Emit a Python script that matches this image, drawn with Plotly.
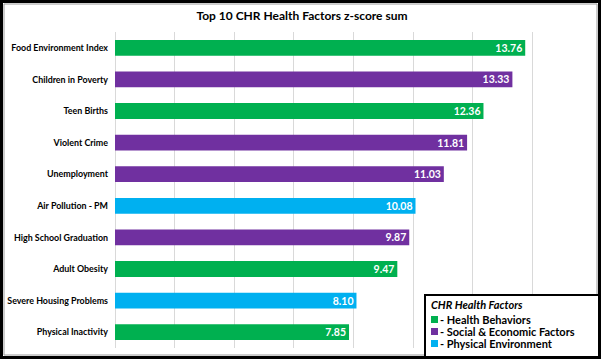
import plotly.graph_objects as go

categories = ["Food Environment Index", "Children in Poverty", "Teen Births", "Violent Crime",
              "Unemployment", "Air Pollution - PM", "High School Graduation", "Adult Obesity",
              "Severe Housing Problems", "Physical Inactivity"]
values = [13.76, 13.33, 12.36, 11.81, 11.03, 10.08, 9.87, 9.47, 8.10, 7.85]
groups = ["Health Behaviors", "Social & Economic Factors", "Health Behaviors", "Social & Economic Factors",
          "Social & Economic Factors", "Physical Environment", "Social & Economic Factors",
          "Health Behaviors", "Physical Environment", "Health Behaviors"]
legend_items = ["Health Behaviors", "Social & Economic Factors", "Physical Environment"]
group_colors = {"Health Behaviors": "#00B050",
                "Social & Economic Factors": "#7030A0",
                "Physical Environment": "#00B0F0"}

W, H = 604, 360
L, R, T, B = 115, 592, 32, 348

def px(x):
    return (x - L) / (R - L)

def py(y):
    return (B - y) / (B - T)

FONT = "Lato"

fig = go.Figure(go.Bar(
    y=categories, x=values, orientation="h",
    marker=dict(color=[group_colors[g] for g in groups], line=dict(width=0)),
    texttemplate="%{x:.2f}", textposition="inside", insidetextanchor="end",
    constraintext="none",
    textfont=dict(family=FONT, size=10.5, color="white", weight="bold"),
    cliponaxis=False, hoverinfo="skip",
))

shapes = [
    # outer frame
    dict(type="rect", xref="paper", yref="paper", x0=px(1.5), x1=px(599.5), y0=py(1.5), y1=py(357.5),
         line=dict(color="black", width=3), layer="above"),
    dict(type="rect", xref="paper", yref="paper", x0=px(4), x1=px(597), y0=py(4), y1=py(355),
         line=dict(color="#9a9a9a", width=1), layer="above"),
    # legend box
    dict(type="rect", xref="paper", yref="paper", x0=px(425), x1=px(599), y0=py(295), y1=py(357),
         line=dict(color="black", width=2), fillcolor="white", layer="above"),
]
annotations = [
    dict(xref="paper", yref="paper", x=px(429), y=py(304), xanchor="left", yanchor="middle",
         text="<b><i>CHR Health Factors</i></b>", showarrow=False,
         font=dict(family=FONT, size=11, color="black")),
]
item_y = [319.5, 331.5, 343.5]
for name, yc in zip(legend_items, item_y):
    shapes.append(dict(type="rect", xref="paper", yref="paper", x0=px(431), x1=px(438),
                       y0=py(yc - 3.5), y1=py(yc + 3.5), line=dict(width=0),
                       fillcolor=group_colors[name], layer="above"))
    annotations.append(dict(xref="paper", yref="paper", x=px(438), y=py(yc), xanchor="left",
                            yanchor="middle", text="<b>- " + name + "</b>", showarrow=False,
                            font=dict(family=FONT, size=11, color="black")))

fig.update_layout(
    width=W, height=H,
    margin=dict(l=L, r=W - R, t=T, b=H - B, autoexpand=False),
    paper_bgcolor="white", plot_bgcolor="white",
    title=dict(text="<b>Top 10 CHR Health Factors z-score sum</b>", xref="container", x=0.5,
               y=1 - 16 / H, yref="container", xanchor="center", yanchor="middle", automargin=False,
               font=dict(family=FONT, size=12, color="black")),
    xaxis=dict(range=[0, 16], dtick=2, showticklabels=False, showgrid=True, gridcolor="#D9D9D9",
               gridwidth=1, zeroline=True, zerolinecolor="#D9D9D9", zerolinewidth=1, showline=False,
               fixedrange=True, automargin=False),
    yaxis=dict(autorange="reversed", showgrid=False, showline=False, ticks="",
               ticklabelstandoff=6, automargin=False, fixedrange=True,
               tickfont=dict(family=FONT, size=8.9, color="black", weight="bold")),
    bargap=0.5,
    showlegend=False,
    shapes=shapes,
    annotations=annotations,
)

fig.write_html("out.html", config={"displayModeBar": False, "staticPlot": True},
               post_script="document.body.style.margin='0';document.body.style.overflow='hidden';")
